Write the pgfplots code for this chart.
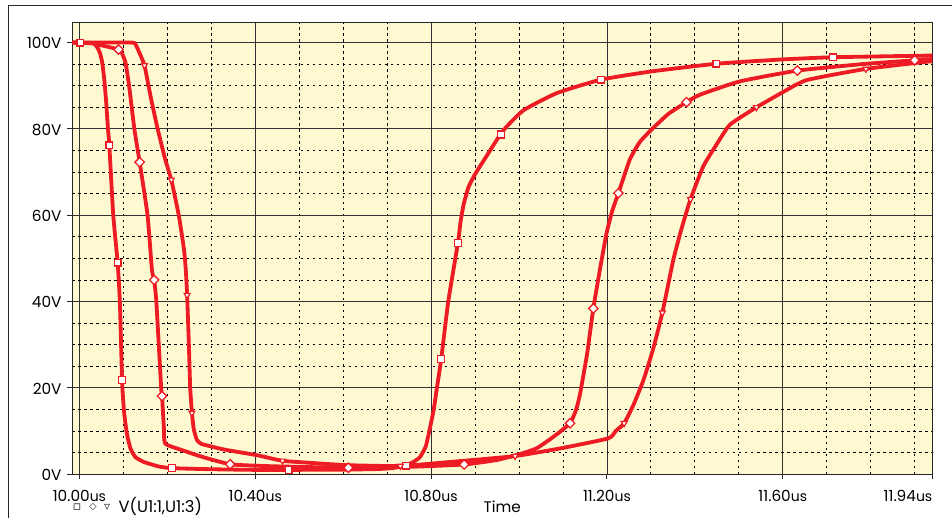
\documentclass[border=0pt]{standalone}
\usepackage{fontspec}
\setmainfont{Poppins}
\newfontfamily\symfont{DejaVu Sans}
\usepackage{pgfplots}
\pgfplotsset{compat=1.18}
\definecolor{trace}{RGB}{237,28,36}
\definecolor{bg}{RGB}{255,249,210}
\newcommand{\lbl}{\fontsize{15.3}{18}\selectfont}
\newcommand{\us}{{\fontsize{14}{16}\selectfont us}}
\begin{document}
\begin{tikzpicture}
\begin{axis}[name=ax, scale only axis, width=859pt, height=451pt,
  xmin=9.984, xmax=11.94, ymin=0, ymax=104.6,
  axis background/.style={fill=bg},
  xtick={10,10.4,10.8,11.2,11.6,11.94},
  xticklabels={10.00\us,10.40\us,10.80\us,11.20\us,11.60\us,\makebox[0pt][r]{11.94\us}},
  minor xtick={10.1,10.2,10.3,10.5,10.6,10.7,10.9,11.0,11.1,11.3,11.4,11.5,11.7,11.8,11.9},
  ytick={0,20,40,60,80,100}, yticklabels={0V,20V,40V,60V,80V,100V},
  minor ytick={5,10,15,25,30,35,45,50,55,65,70,75,85,90,95},
  grid=both,
  major grid style={draw=black!80, line width=0.9pt},
  minor grid style={draw=black, line width=0.9pt, dash pattern=on 2.4pt off 3.6pt},
  axis line style={draw=black!85, line width=1.3pt},
  tick pos=left, tick align=outside, major tick length=5pt, minor tick length=0pt,
  tick style={draw=black!85, line width=1pt},
  xticklabel style={font=\lbl, anchor=base, inner sep=0pt, yshift=-22pt},
  yticklabel style={font=\lbl, anchor=base east, inner sep=0pt, xshift=-5.6pt, yshift=-6.3pt},
  clip=true,
  curve/.style={trace, line width=3.8pt, line join=round, line cap=round, smooth, tension=0.3},
]
% square series
\addplot[curve] coordinates {
(9.984,100) (10.03,99.9) (10.040,99) (10.047,97.5) (10.052,95.3) (10.057,91) (10.061,86)
(10.065,80) (10.068,76.2) (10.077,60) (10.087,49.0) (10.092,40) (10.097,21.8) (10.099,18)
(10.102,14) (10.108,9.4) (10.116,6) (10.127,4.0) (10.146,2.85) (10.18,1.8) (10.211,1.4)
(10.3,1.15) (10.4,1.0) (10.476,1.0) (10.6,1.05) (10.68,1.2) (10.71,1.4) (10.728,1.7)
(10.743,2.0) (10.762,3.0) (10.775,4.0) (10.788,6.5) (10.798,11.0) (10.806,15) (10.813,19.9)
(10.823,26.7) (10.839,40) (10.861,53.6) (10.867,58.5) (10.874,62.5) (10.885,66.5) (10.9,69.5) (10.923,73.2)
(10.963,79.5) (11.01,84.3) (11.086,88.3) (11.186,91.4) (11.3,93.3) (11.449,95.1) (11.6,96.1)
(11.714,96.6) (11.94,97.0)};
% diamond series
\addplot[curve] coordinates {
(9.984,100) (10.03,99.8) (10.089,98.4) (10.097,97.5) (10.105,95.3) (10.113,90) (10.125,80)
(10.137,72.3) (10.155,60) (10.165,47.3) (10.170,45.0) (10.175,40) (10.186,20) (10.188,18.1)
(10.192,11) (10.195,7.1) (10.23,5.7) (10.28,4.0) (10.343,2.3) (10.42,1.9) (10.5,1.7)
(10.612,1.5) (10.75,1.7) (10.875,2.25) (10.95,3.3) (11.0,4.6) (11.040,6.0) (11.08,8.8)
(11.116,11.8) (11.13,15) (11.139,18.7) (11.155,28) (11.169,38.4) (11.185,48) (11.199,55.8)
(11.212,61) (11.226,65.1) (11.252,72.9) (11.275,77) (11.305,80.2) (11.34,83.5) (11.381,86.2)
(11.411,87.9) (11.502,91.0) (11.633,93.5) (11.78,95.0) (11.9,95.9) (11.94,96.2)};
% triangle series
\addplot[curve] coordinates {
(9.984,100) (10.118,100) (10.128,99.5) (10.137,97.5) (10.148,94.7) (10.163,87) (10.178,80)
(10.195,73) (10.209,68.2) (10.226,60) (10.238,52) (10.242,47.3) (10.245,41.5) (10.249,30)
(10.252,20) (10.256,14.2) (10.260,10.5) (10.267,8.0) (10.278,7.0) (10.33,5.7) (10.404,4.4)
(10.462,3.1) (10.53,2.6) (10.608,2.1) (10.73,1.9) (10.85,2.9) (10.991,4.2) (11.1,6.1)
(11.203,8.3) (11.22,10) (11.239,11.8) (11.26,16) (11.283,21.8) (11.305,29) (11.326,37.4)
(11.351,49.7) (11.37,57) (11.390,63.7) (11.419,71.3) (11.45,76.5) (11.480,81.0) (11.540,85.0)
(11.6,88.5) (11.654,91.3) (11.789,93.9) (11.94,95.7)};
% markers
\addplot[only marks, mark=square*, mark size=3.4pt, mark options={draw=trace, fill=white, line width=1.3pt}] coordinates {
(10.002,100) (10.068,76.2) (10.087,49.0) (10.097,21.8) (10.211,1.4) (10.476,1.0) (10.743,2.0)
(10.823,26.7) (10.861,53.6) (10.959,78.7) (11.186,91.4) (11.449,95.1) (11.714,96.6)};
\addplot[only marks, mark=square*, mark size=3.3pt, mark options={draw=trace, fill=white, line width=1.3pt, rotate=45}] coordinates {
(10.089,98.4) (10.137,72.3) (10.170,45.0) (10.188,18.1) (10.343,2.3) (10.612,1.5) (10.875,2.25)
(11.116,11.8) (11.169,38.4) (11.226,65.1) (11.381,86.2) (11.633,93.5) (11.9,95.9)};
\addplot[only marks, mark=triangle*, mark size=3.4pt, mark options={draw=trace, fill=white, line width=1.2pt, rotate=180}] coordinates {
(10.148,94.7) (10.209,68.2) (10.245,41.5) (10.256,14.2) (10.462,3.1) (10.73,1.9) (10.991,4.2)
(11.239,11.8) (11.326,37.4) (11.390,63.7) (11.540,85.0) (11.789,93.9)};
\end{axis}
\node[anchor=base, inner sep=0pt] at ([yshift=-38pt]ax.south) {\lbl Time};
\node[anchor=base west, inner sep=0pt] at ([xshift=46pt,yshift=-38pt]ax.south west) {\fontsize{16.3}{18}\selectfont V(U1:1,U1:3)};
\node[inner sep=0pt, text=black!85] at ([xshift=4.7pt,yshift=-32.8pt]ax.south west) {\symfont\fontsize{13}{14}\selectfont ▫};
\node[inner sep=0pt, text=black!85] at ([xshift=20.7pt,yshift=-32.8pt]ax.south west) {\symfont\fontsize{9.5}{11}\selectfont\bfseries ◇};
\node[inner sep=0pt, text=black!85] at ([xshift=34.7pt,yshift=-32.8pt]ax.south west) {\symfont\fontsize{12}{14}\selectfont ▿};
\draw[black!85, line width=1.3pt] ([xshift=-64pt,yshift=-80pt]ax.south west) -- ([xshift=-64pt,yshift=17.3pt]ax.north west) -- ([xshift=60pt,yshift=17.3pt]ax.north east);
\pgfresetboundingbox
\path[use as bounding box] ([xshift=-72.3pt,yshift=-43.7pt]ax.south west) rectangle ([xshift=19.7pt,yshift=22.7pt]ax.north east);
\end{tikzpicture}
\end{document}
